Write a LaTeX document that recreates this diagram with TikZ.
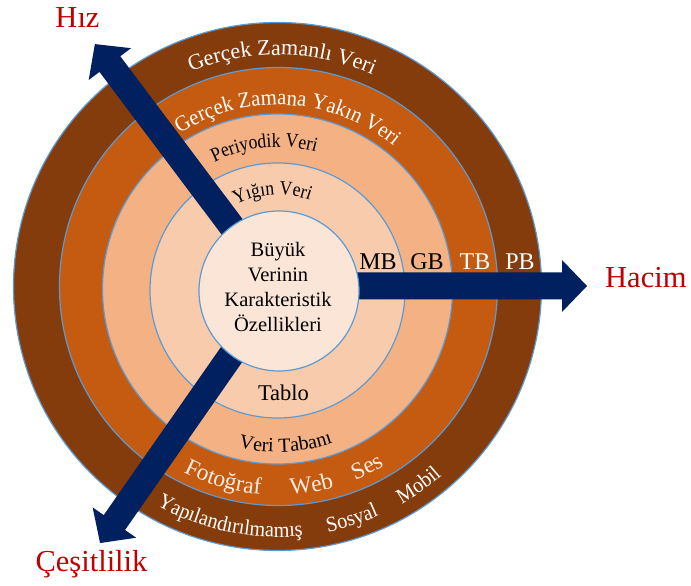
\documentclass[tikz,border=0pt]{standalone}
\usepackage{fontspec}
\setmainfont{Liberation Serif}
% slightly condensed serifs for the lettering that follows the rings
\newfontfamily\arcserif[FakeStretch=0.88]{Liberation Serif}
\newfontfamily\arcserifwide[FakeStretch=0.94]{Liberation Serif}
\usetikzlibrary{decorations.text}

\definecolor{ringbrown}{HTML}{843C0C}
\definecolor{ringorange}{HTML}{C55A11}
\definecolor{ringpeach}{HTML}{F4B183}
\definecolor{ringlight}{HTML}{F8CBAD}
\definecolor{corefill}{HTML}{FBE5D6}
\definecolor{edgeblue}{HTML}{5B9BD5}
\definecolor{arrownavy}{HTML}{002060}
\definecolor{labelred}{HTML}{C00000}
\definecolor{lightcream}{HTML}{FDEEE3}

% text set along the upper part of a ring (read left to right, clockwise)
% #1 centre angle, #2 baseline radius, #3 colour, #4 font, #5 text
\newcommand\toparc[5]{%
  \path[decorate, decoration={text along path, text align=center,
      text color=#3, text={|#4|#5}}]
    (O) ++(#1+60:#2) arc[start angle=#1+60, end angle=#1-60, radius=#2];}
% text set along the lower part of a ring (read left to right, counter-clockwise)
\newcommand\botarc[5]{%
  \path[decorate, decoration={text along path, text align=center,
      text color=#3, text={|#4|#5}}]
    (O) ++(#1-40:#2) arc[start angle=#1-40, end angle=#1+40, radius=#2];}

\newcommand\fRingBig{\fontsize{22}{26}\selectfont}
\newcommand\fRingWide{\arcserifwide\fontsize{22}{26}\selectfont}
\newcommand\fRingOuter{\arcserifwide\fontsize{21.5}{25}\selectfont}
\newcommand\fRingSmall{\arcserif\fontsize{20}{24}\selectfont}
\newcommand\fRingBase{\fontsize{20}{24}\selectfont}
\newcommand\fRingWord{\fontsize{23.5}{27}\selectfont}

\begin{document}
\begin{tikzpicture}[x=1pt, y=1pt,
    ring/.style={draw=edgeblue, line width=1.2pt},
    axislabel/.style={text=labelred, font=\fontsize{30.5}{34}\selectfont, inner sep=0pt},
    unitlabel/.style={font=\fontsize{24}{28}\selectfont, inner sep=0pt, anchor=base},
    arrowbody/.style={fill=arrownavy}]
  \useasboundingbox (0,0) rectangle (691,586);
  \fill[white] (0,0) rectangle (691,586);
  \coordinate (O) at (278,298);

  % concentric rings, outermost first
  \filldraw[ring, fill=ringbrown]  (277.5,299.5) circle[radius=264];
  \filldraw[ring, fill=ringorange] (278.5,299.5) circle[radius=219];
  \filldraw[ring, fill=ringpeach]  (277.5,297)   circle[radius=175];
  \filldraw[ring, fill=ringlight]  (277.5,295.5) circle[radius=127.5];

  % the three axes as block arrows leaving the centre
  \begin{scope}[shift={(O)}, rotate=126.9]
    \fill[arrowbody] (0,-13) -- (280,-13) -- (280,-26.5) -- (305,0)
      -- (280,26.5) -- (280,13) -- (0,13) -- cycle;
  \end{scope}
  \begin{scope}[shift={(278,300)}]
    \fill[arrowbody] (0,-13.5) -- (284,-13.5) -- (284,-26) -- (309,0)
      -- (284,26) -- (284,13.5) -- (0,13.5) -- cycle;
  \end{scope}
  \begin{scope}[shift={(O)}, rotate=235.1]
    \fill[arrowbody] (0,-13) -- (286,-13) -- (286,-26.5) -- (311,0)
      -- (286,26.5) -- (286,13) -- (0,13) -- cycle;
  \end{scope}

  % core
  \filldraw[ring, fill=corefill] (279,295) circle[radius=80];
  \node[align=center, font=\fontsize{20.5}{25}\selectfont, inner sep=0pt]
    (core) at (278,299.5) {Büyük\\Verinin\\Karakteristik\\Özellikleri};

  % velocity levels
  \toparc{89}{233}{white}{\fRingBig}{Gerçek Zamanlı Veri}
  \toparc{86.6}{183}{white}{\fRingWide}{Gerçek Zamana Yakın Veri}
  \toparc{95.6}{141}{black}{\fRingSmall}{Periyodik Veri}
  \toparc{93.4}{93}{black}{\fRingSmall}{Yığın Veri}

  % volume levels
  \node[unitlabel] (mb) at (378,316) {MB};
  \node[unitlabel] (gb) at (427,316) {GB};
  \node[unitlabel, text=white] (tb) at (475,316) {TB};
  \node[unitlabel, text=white] (pb) at (520,316) {PB};

  % variety levels
  \node[anchor=base, inner sep=0pt, font=\fontsize{22.5}{26}\selectfont]
    (tablo) at (283.5,185) {Tablo};
  \botarc{272.8}{164}{black}{\fRingBase}{Veri Tabanı}
  \botarc{254}{207}{lightcream}{\fRingWord}{Fotoğraf}
  \botarc{279.6}{207}{lightcream}{\fRingWord}{Web}
  \botarc{296.4}{207}{lightcream}{\fRingWord}{Ses}
  \botarc{258.3}{249}{white}{\fRingOuter}{Yapılandırılmamış}
  \botarc{287.75}{249}{white}{\fRingOuter}{Sosyal}
  \botarc{305.5}{249}{white}{\fRingOuter}{Mobil}

  % axis names
  \node[axislabel, anchor=base] (hiz) at (77.5,558) {Hız};
  \node[axislabel, anchor=base west] (hacim) at (605,298) {Hacim};
  \node[axislabel, anchor=base] (cesit) at (91.5,14) {Çeşitlilik};
\end{tikzpicture}
\end{document}
